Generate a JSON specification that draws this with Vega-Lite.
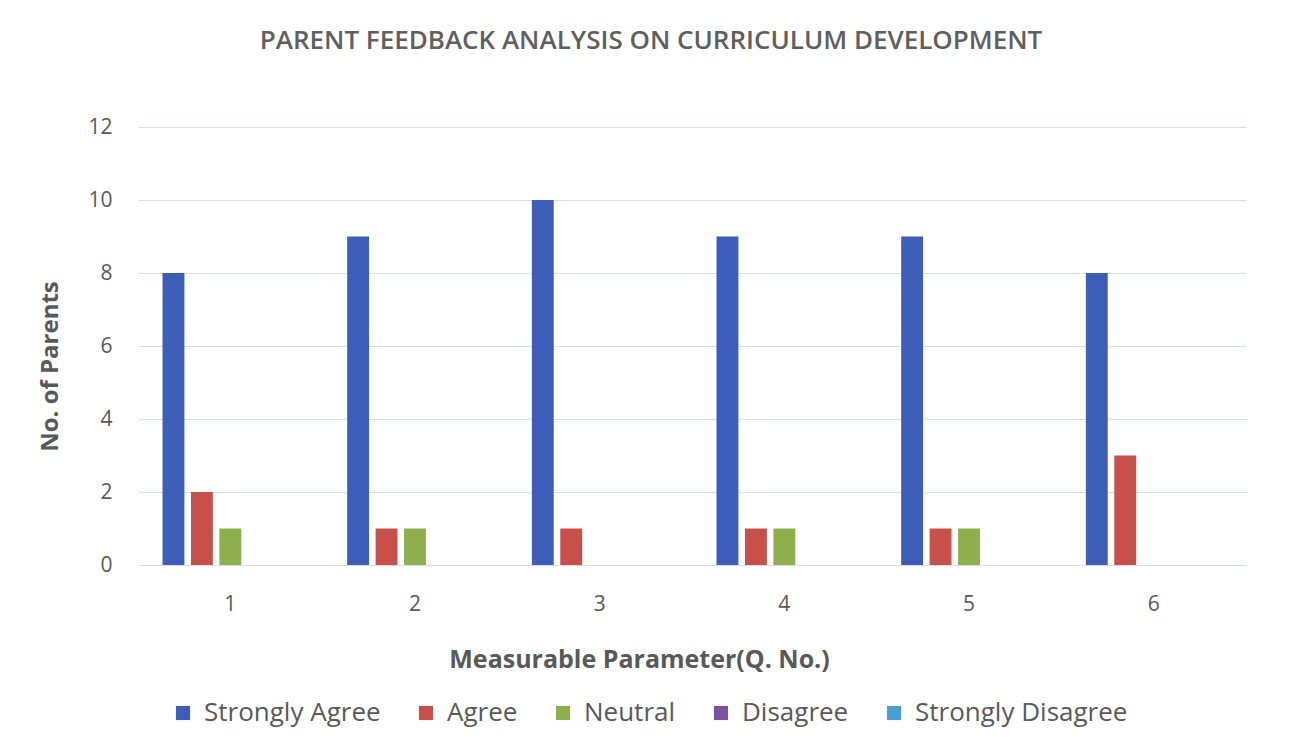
{
  "$schema": "https://vega.github.io/schema/vega-lite/v6.json",
  "autosize": "none",
  "width": 1108,
  "height": 438,
  "padding": {"left": 138, "top": 127, "right": 58, "bottom": 172},
  "background": "white",
  "title": {
    "text": "PARENT FEEDBACK ANALYSIS ON CURRICULUM DEVELOPMENT",
    "anchor": "middle",
    "font": "Open Sans",
    "fontSize": 26,
    "fontWeight": 600,
    "color": "#5f5f5f",
    "offset": 62,
    "dx": -41
  },
  "data": {
    "values": [
      {"q": "1", "resp": "Strongly Agree", "n": 8},
      {"q": "1", "resp": "Agree", "n": 2},
      {"q": "1", "resp": "Neutral", "n": 1},
      {"q": "1", "resp": "Disagree", "n": 0},
      {"q": "1", "resp": "Strongly Disagree", "n": 0},
      {"q": "2", "resp": "Strongly Agree", "n": 9},
      {"q": "2", "resp": "Agree", "n": 1},
      {"q": "2", "resp": "Neutral", "n": 1},
      {"q": "2", "resp": "Disagree", "n": 0},
      {"q": "2", "resp": "Strongly Disagree", "n": 0},
      {"q": "3", "resp": "Strongly Agree", "n": 10},
      {"q": "3", "resp": "Agree", "n": 1},
      {"q": "3", "resp": "Neutral", "n": 0},
      {"q": "3", "resp": "Disagree", "n": 0},
      {"q": "3", "resp": "Strongly Disagree", "n": 0},
      {"q": "4", "resp": "Strongly Agree", "n": 9},
      {"q": "4", "resp": "Agree", "n": 1},
      {"q": "4", "resp": "Neutral", "n": 1},
      {"q": "4", "resp": "Disagree", "n": 0},
      {"q": "4", "resp": "Strongly Disagree", "n": 0},
      {"q": "5", "resp": "Strongly Agree", "n": 9},
      {"q": "5", "resp": "Agree", "n": 1},
      {"q": "5", "resp": "Neutral", "n": 1},
      {"q": "5", "resp": "Disagree", "n": 0},
      {"q": "5", "resp": "Strongly Disagree", "n": 0},
      {"q": "6", "resp": "Strongly Agree", "n": 8},
      {"q": "6", "resp": "Agree", "n": 3},
      {"q": "6", "resp": "Neutral", "n": 0},
      {"q": "6", "resp": "Disagree", "n": 0},
      {"q": "6", "resp": "Strongly Disagree", "n": 0}
    ]
  },
  "mark": {"type": "bar"},
  "encoding": {
    "x": {
      "field": "q",
      "type": "nominal",
      "scale": {"paddingInner": 0.23, "paddingOuter": 0.115},
      "axis": {
        "title": "Measurable Parameter(Q. No.)",
        "labelAngle": 0,
        "labelFont": "Open Sans",
        "labelFontSize": 21,
        "labelColor": "#595959",
        "labelPadding": 28,
        "ticks": false,
        "domain": true,
        "domainColor": "#D9DCEB",
        "titleFont": "Open Sans",
        "titleFontSize": 25,
        "titleFontWeight": "bold",
        "titleColor": "#595959",
        "titlePadding": 33,
        "titleX": 501
      }
    },
    "xOffset": {
      "field": "resp",
      "type": "nominal",
      "sort": ["Strongly Agree", "Agree", "Neutral", "Disagree", "Strongly Disagree"],
      "scale": {"paddingInner": 0.23, "paddingOuter": 0.115}
    },
    "y": {
      "field": "n",
      "type": "quantitative",
      "scale": {"domain": [0, 12]},
      "axis": {
        "title": "No. of Parents",
        "values": [0, 2, 4, 6, 8, 10, 12],
        "labelFont": "Open Sans",
        "labelFontSize": 21,
        "labelColor": "#595959",
        "labelPadding": 26,
        "ticks": false,
        "domain": false,
        "grid": true,
        "gridColor": "#D9DCEB",
        "titleFont": "Open Sans",
        "titleFontSize": 24,
        "titleFontWeight": "bold",
        "titleColor": "#595959",
        "titlePadding": 25,
        "titleY": 239
      }
    },
    "color": {
      "field": "resp",
      "type": "nominal",
      "scale": {
        "domain": ["Strongly Agree", "Agree", "Neutral", "Disagree", "Strongly Disagree"],
        "range": ["#3E5DB8", "#C8504B", "#8DB04C", "#7A52A3", "#4A9FD6"]
      },
      "legend": {
        "orient": "none",
        "direction": "horizontal",
        "legendX": 32,
        "legendY": 573,
        "title": null,
        "symbolType": "square",
        "symbolSize": 200,
        "symbolStrokeWidth": 0,
        "labelFont": "Open Sans",
        "labelFontSize": 26,
        "labelColor": "#595959",
        "labelOffset": 8,
        "labelLimit": 400,
        "columnPadding": 32
      }
    }
  },
  "config": {"view": {"stroke": null}}
}
